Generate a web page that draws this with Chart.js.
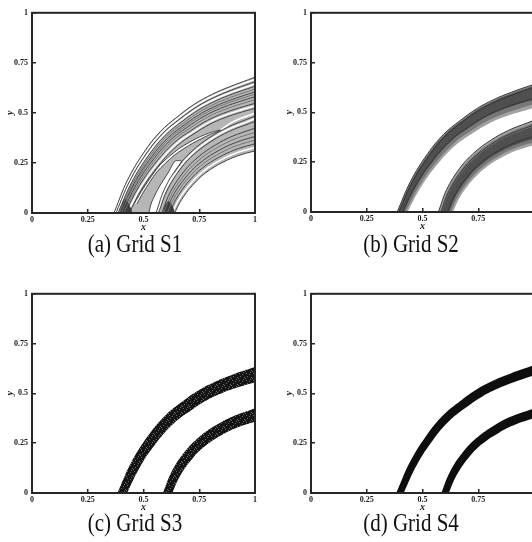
<!DOCTYPE html>
<html>
<head>
<meta charset="utf-8">
<script src="https://cdn.jsdelivr.net/npm/chart.js@4.4.0/dist/chart.umd.min.js"></script>
<style>
  html, body { margin: 0; padding: 0; background: #fff; overflow: hidden; }
  #page { position: relative; width: 532px; height: 542px; overflow: hidden; background: #fff; }
  #page canvas { position: absolute; }
  .cap { position: absolute; width: 200px; text-align: center; white-space: nowrap;
         font-family: "Liberation Serif", "Times New Roman", serif; font-size: 21px;
         line-height: 26px; color: #111; transform: scaleY(1.15); transform-origin: 50% 50%; }
</style>
</head>
<body>
<div id="page">
  <canvas id="s1" width="267" height="241" style="left:0px;top:0px"></canvas>
  <canvas id="s2" width="267" height="240" style="left:279px;top:0px"></canvas>
  <canvas id="s3" width="267" height="240" style="left:0px;top:281px"></canvas>
  <canvas id="s4" width="267" height="240" style="left:279px;top:281px"></canvas>
  <div class="cap" id="c1" style="left:35px;top:231px"></div>
  <div class="cap" id="c2" style="left:311px;top:231px"></div>
  <div class="cap" id="c3" style="left:35px;top:510px"></div>
  <div class="cap" id="c4" style="left:311px;top:510px"></div>
</div>
<script>
// ---- axis ticks and captions ----
const tickValues = [0, 0.25, 0.5, 0.75, 1];
const tickLabels = ['0', '0.25', '0.5', '0.75', '1'];
const captions = ['(a) Grid S1', '(b) Grid S2', '(c) Grid S3', '(d) Grid S4'];

// ---- the two fronts (x, y), from just below the x-axis to just past x = 1 ----
const outerFrontX = [0.379, 0.399, 0.459, 0.534, 0.608, 0.683, 0.758, 0.833, 0.907, 0.991, 1.060];
const outerFrontY = [-0.050, 0.000, 0.148, 0.280, 0.378, 0.446, 0.504, 0.547, 0.580, 0.612, 0.637];
const innerFrontX = [0.582, 0.601, 0.638, 0.698, 0.758, 0.833, 0.907, 0.991, 1.060];
const innerFrontY = [-0.050, 0.000, 0.098, 0.197, 0.264, 0.322, 0.364, 0.397, 0.423];

// ---- Grid S1: contour levels as normal offsets from the front [at y = 0 end, at x = 1 end] ----
const s1OuterLevels = [[0.028, 0.060], [0.020, 0.039], [0.012, 0.017], [0.004, -0.011],
                       [-0.004, -0.035], [-0.014, -0.068], [-0.030, -0.093]];
const s1InnerLevels = [[0.040, 0.080], [0.030, 0.055], [0.018, 0.022], [0.005, -0.019],
                       [-0.010, -0.057], [-0.030, -0.094]];
const s1OuterFaint = [[0.008, 0.003], [0.000, -0.022], [-0.009, -0.050]];
const s1InnerFaint = [[0.011, 0.002], [-0.002, -0.038]];
// white gaps between neighbouring low-level contours
const s1OuterGaps = [[0.024, 0.050], [0.016, 0.028], [-0.022, -0.081]];
const s1InnerGaps = [[0.035, 0.068], [-0.020, -0.076]];
// the two empty tongues between the fronts
const s1UpperGapX = [0.460, 0.500, 0.574, 0.660, 0.740, 0.806, 0.846, 0.800, 0.720, 0.640, 0.560, 0.500, 0.470];
const s1UpperGapY = [0.050, 0.125, 0.240, 0.322, 0.374, 0.404, 0.414, 0.393, 0.348, 0.290, 0.205, 0.105, 0.045];
const s1LowerGapX = [0.520, 0.535, 0.570, 0.610, 0.641, 0.671, 0.640, 0.600, 0.570, 0.562];
const s1LowerGapY = [-0.020, 0.050, 0.130, 0.200, 0.259, 0.259, 0.200, 0.110, 0.030, -0.020];
// contour gap running from the upper tongue tip to the right edge
const s1RidgeX = [0.846, 0.900, 0.950, 1.000, 1.060];
const s1RidgeY = [0.414, 0.455, 0.478, 0.498, 0.520];
// dense feet where the fronts meet the x-axis
const s1FootOuterX = [0.392, 0.402, 0.418, 0.445, 0.452];
const s1FootOuterY = [-0.020, 0.040, 0.070, 0.020, -0.020];
const s1FootInnerX = [0.585, 0.595, 0.612, 0.636, 0.642];
const s1FootInnerY = [-0.020, 0.035, 0.060, 0.020, -0.020];

// ---- Grid S2: shaded layers [outer edge, inner edge] and streaks ----
const s2OuterLayers = [[[0.011, 0.025], [-0.027, -0.094]],
                       [[0.009, 0.021], [-0.020, -0.075]],
                       [[0.006, 0.016], [-0.012, -0.050]]];
const s2InnerLayers = [[[0.026, 0.058], [-0.030, -0.065]],
                       [[0.020, 0.045], [-0.022, -0.050]],
                       [[0.012, 0.030], [-0.014, -0.032]]];
const s2OuterStreaks = [[0.004, 0.010], [-0.008, -0.045]];
const s2InnerStreaks = [[0.016, 0.036], [-0.010, -0.020]];

// ---- Grid S3 and S4: band edges ----
const s3OuterBand = [[0.015, 0.016], [-0.023, -0.058]];
const s3InnerBand = [[0.012, 0.024], [-0.025, -0.042]];
const s4OuterBand = [[0.015, 0.025], [-0.015, -0.025]];
const s4InnerBand = [[0.015, 0.024], [-0.015, -0.025]];

// ---------------------------------------------------------------
const serif = '"Liberation Serif", "Times New Roman", serif';
const OUT = { x: outerFrontX, y: outerFrontY };
const IN = { x: innerFrontX, y: innerFrontY };

// points of a curve lying at a normal offset from a front
function edgePoints(front, off) {
  const fx = front.x, fy = front.y, n = fx.length;
  const s = [0];
  for (let i = 1; i < n; i++) s.push(s[i - 1] + Math.hypot(fx[i] - fx[i - 1], fy[i] - fy[i - 1]));
  const pts = [];
  for (let i = 0; i < n; i++) {
    const a = Math.max(i - 1, 0), b = Math.min(i + 1, n - 1);
    let tx = fx[b] - fx[a], ty = fy[b] - fy[a];
    const len = Math.hypot(tx, ty); tx /= len; ty /= len;
    const d = off[0] + (off[1] - off[0]) * s[i] / s[n - 1];
    pts.push({ x: fx[i] - ty * d, y: fy[i] + tx * d });
  }
  return pts;
}
function bandPoints(front, pair) {
  return edgePoints(front, pair[0]).concat(edgePoints(front, pair[1]).reverse());
}
function zip(xs, ys) { return xs.map((x, i) => ({ x, y: ys[i] })); }

function shape(points, color, border, width, tension) {
  return { data: points, fill: 'shape', backgroundColor: color,
           borderColor: border || 'rgba(0,0,0,0)', borderWidth: width || 0,
           pointRadius: 0, tension: tension === undefined ? 0.4 : tension };
}
function curve(points, color, width) {
  return { data: points, fill: false, borderColor: color, borderWidth: width,
           pointRadius: 0, tension: 0.4 };
}

const framePlugin = {
  id: 'frame',
  afterDraw(chart) {
    const { ctx, chartArea: { left, top, right, bottom } } = chart;
    ctx.save();
    ctx.strokeStyle = '#262626';
    ctx.lineWidth = 2;
    ctx.strokeRect(left, top, right - left, bottom - top);
    ctx.restore();
  }
};

function axis(isX) {
  return {
    type: 'linear', min: 0, max: 1,
    afterBuildTicks: sc => { sc.ticks = tickValues.map(v => ({ value: v })); },
    ticks: { autoSkip: false, maxRotation: 0, padding: isX ? 6 : 8, color: '#1a1a1a',
             font: { family: serif, size: 8, weight: 'bold' },
             callback: (v, i) => tickLabels[i] },
    grid: { drawOnChartArea: false, drawTicks: true, tickLength: -4, color: '#262626', lineWidth: 1.5 },
    border: { display: false },
    title: { display: true, text: isX ? 'x' : 'y', color: '#1a1a1a',
             font: { family: serif, size: 10, style: 'italic', weight: 'bold' },
             padding: isX ? { top: 0, bottom: 8 } : { top: 4, bottom: 0 } },
    afterFit: sc => { if (isX) sc.height = 28; else sc.width = 32; }
  };
}

function drawPanel(id, datasets, topPad) {
  datasets.forEach((d, i) => { d.order = datasets.length - i; });
  return new Chart(document.getElementById(id), {
    type: 'line',
    data: { datasets },
    options: {
      responsive: false, animation: false, devicePixelRatio: 1, events: [],
      layout: { padding: { top: topPad, right: 12, left: 0, bottom: 0 } },
      plugins: { legend: { display: false }, tooltip: { enabled: false } },
      elements: { line: { capBezierPoints: false } },
      scales: { x: axis(true), y: axis(false) }
    },
    plugins: [framePlugin]
  });
}

// ---- Grid S1 : contour lines ----
(function () {
  const gray = '#b6b6b6', ink = '#454545', faint = '#747474';
  const ds = [];
  // whole contoured region, outermost contour of the outer front to innermost of the inner one
  const region = edgePoints(OUT, s1OuterLevels[0])
    .concat(edgePoints(IN, s1InnerLevels[s1InnerLevels.length - 1]).reverse());
  ds.push(shape(region, gray));
  ds.push(shape(zip(s1UpperGapX, s1UpperGapY), '#fff', ink, 1, 0.25));
  ds.push(shape(zip(s1LowerGapX, s1LowerGapY), '#fff', ink, 1, 0.2));
  s1OuterGaps.forEach(l => ds.push(curve(edgePoints(OUT, l), '#fff', 1.6)));
  s1InnerGaps.forEach(l => ds.push(curve(edgePoints(IN, l), '#fff', 1.6)));
  ds.push(curve(zip(s1RidgeX, s1RidgeY), '#fff', 1.6));
  ds.push(shape(zip(s1FootOuterX, s1FootOuterY), 'rgba(30,30,30,0.85)', null, 0, 0.3));
  ds.push(shape(zip(s1FootInnerX, s1FootInnerY), 'rgba(30,30,30,0.85)', null, 0, 0.3));
  s1OuterFaint.forEach(l => ds.push(curve(edgePoints(OUT, l), faint, 1)));
  s1InnerFaint.forEach(l => ds.push(curve(edgePoints(IN, l), faint, 1)));
  s1OuterLevels.forEach(l => ds.push(curve(edgePoints(OUT, l), ink, 1)));
  s1InnerLevels.forEach(l => ds.push(curve(edgePoints(IN, l), ink, 1)));
  drawPanel('s1', ds, 11);
})();

// ---- Grid S2 : shaded bands ----
(function () {
  const shades = ['#a2a2a2', '#777777', '#4f4f4f'];
  const ds = [];
  s2OuterLayers.forEach((l, i) => ds.push(shape(bandPoints(OUT, l), shades[i])));
  s2InnerLayers.forEach((l, i) => ds.push(shape(bandPoints(IN, l), shades[i])));
  s2OuterStreaks.forEach(l => ds.push(curve(edgePoints(OUT, l), '#303030', 0.8)));
  s2InnerStreaks.forEach(l => ds.push(curve(edgePoints(IN, l), '#303030', 0.8)));
  ds.push(curve(edgePoints(OUT, s2OuterLayers[0][0]), '#3a3a3a', 1));
  ds.push(curve(edgePoints(IN, s2InnerLayers[0][0]), '#3a3a3a', 1));
  drawPanel('s2', ds, 10);
})();

// ---- Grid S3 : speckled dark bands ----
(function () {
  const tile = document.createElement('canvas');
  tile.width = 7; tile.height = 7;
  const t = tile.getContext('2d');
  t.fillStyle = '#141414'; t.fillRect(0, 0, 7, 7);
  t.fillStyle = '#6a6a6a';
  [[1, 1], [4, 2], [2, 4], [6, 5], [5, 0], [0, 6]].forEach(p => t.fillRect(p[0], p[1], 1, 1));
  const speck = t.createPattern(tile, 'repeat');
  const ds = [shape(bandPoints(OUT, s3OuterBand), speck), shape(bandPoints(IN, s3InnerBand), speck)];
  drawPanel('s3', ds, 11);
})();

// ---- Grid S4 : sharp bands ----
(function () {
  const ds = [shape(bandPoints(OUT, s4OuterBand), '#0e0e0e'), shape(bandPoints(IN, s4InnerBand), '#0e0e0e')];
  drawPanel('s4', ds, 11);
})();

captions.forEach((c, i) => { document.getElementById('c' + (i + 1)).textContent = c; });
</script>
</body>
</html>
